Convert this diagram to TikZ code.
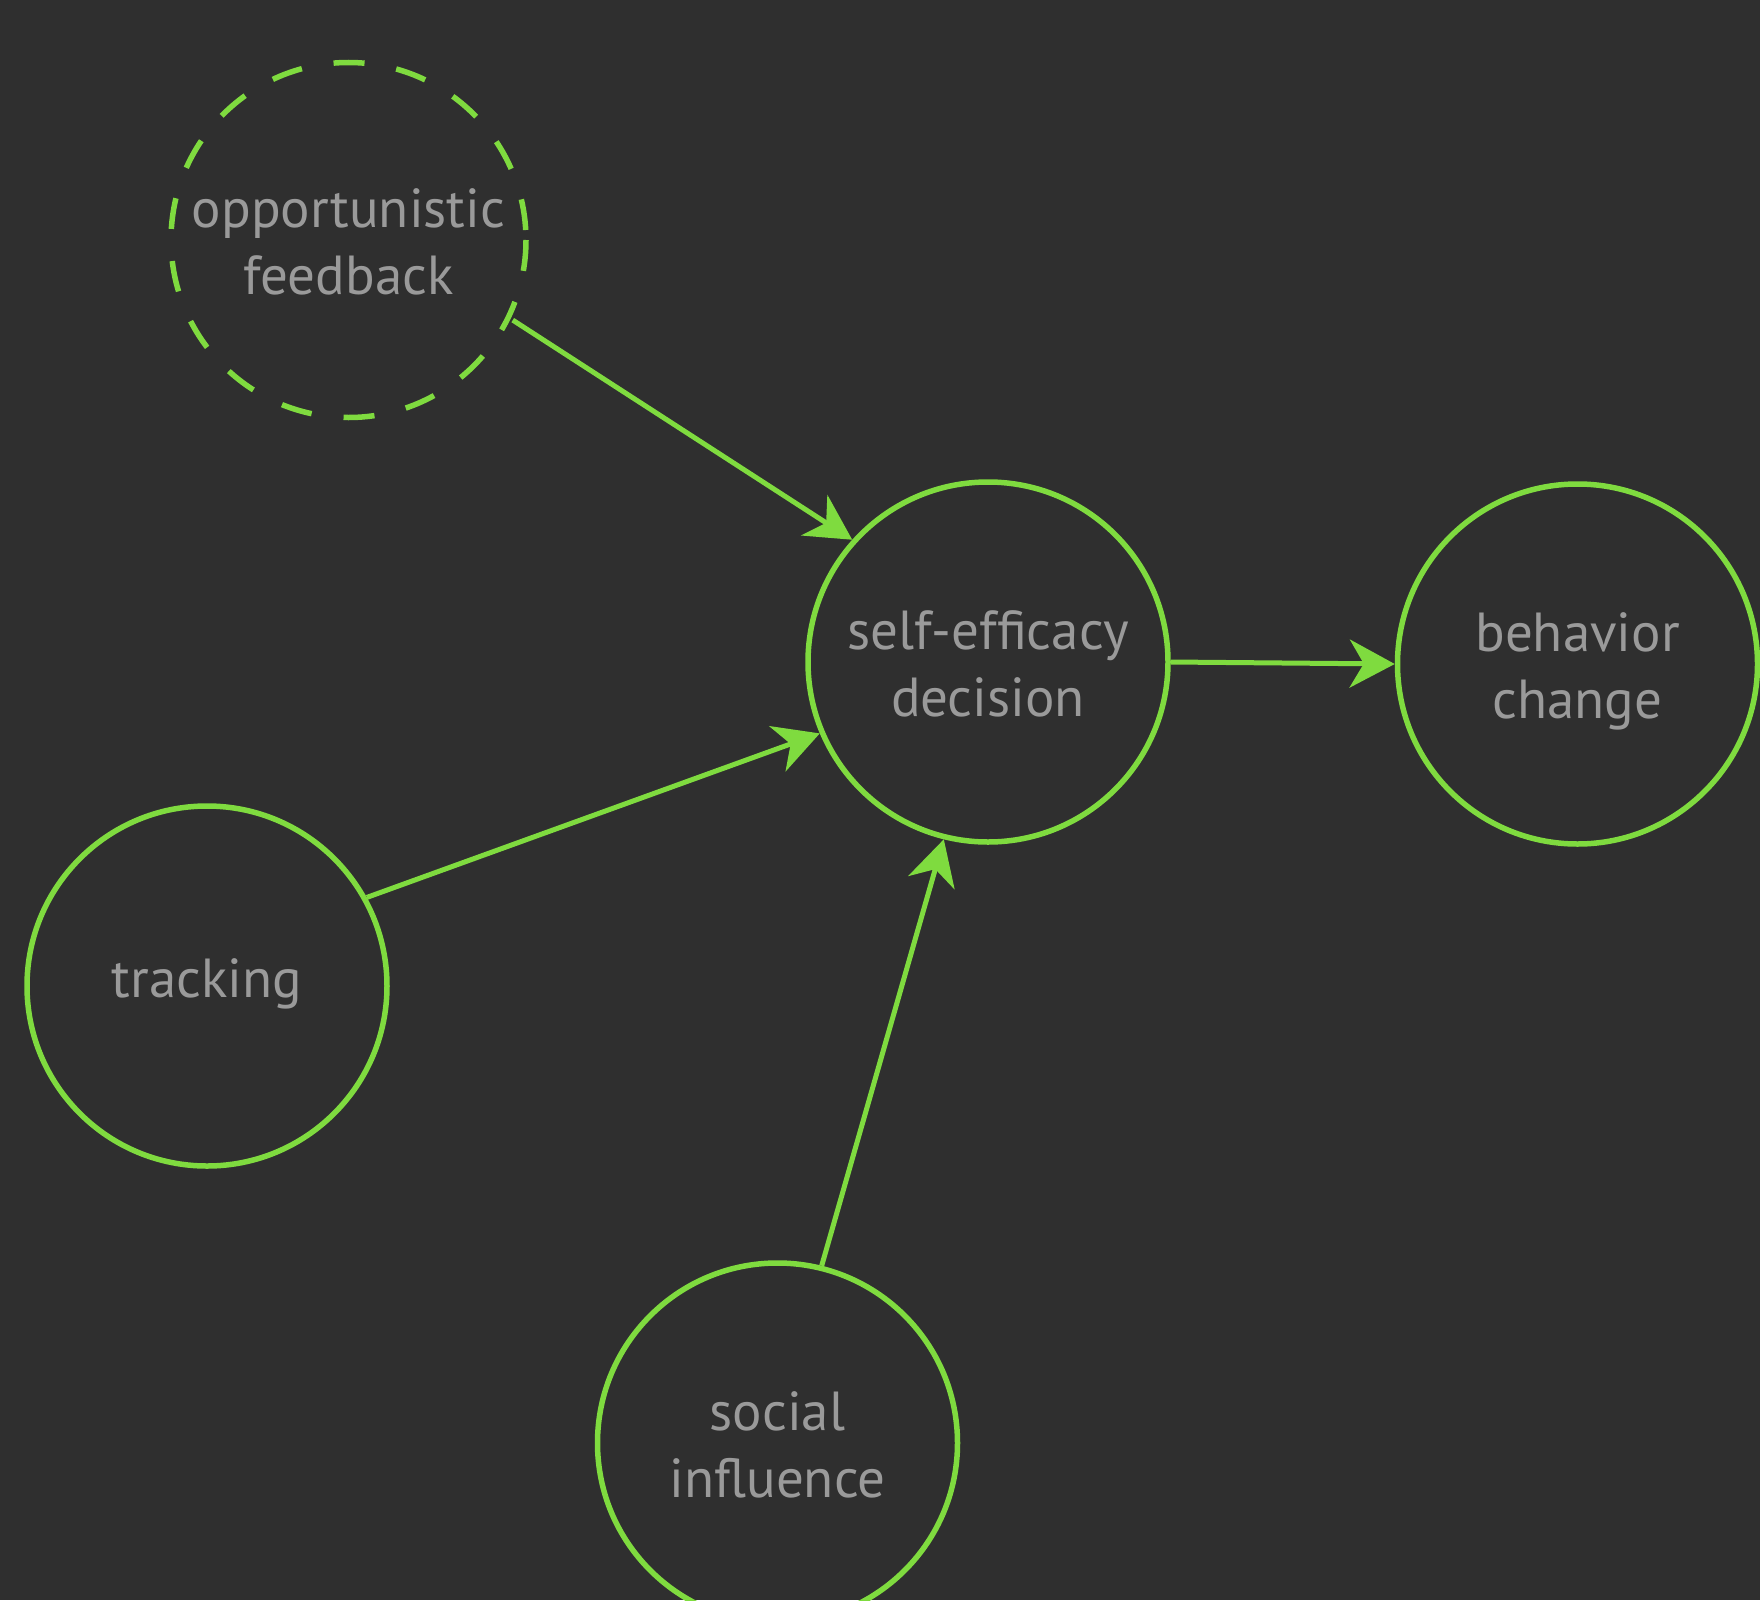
\documentclass[tikz,border=0pt]{standalone}
\usepackage{fontspec}
\setmainfont{PT Sans}
\usetikzlibrary{arrows.meta}
\definecolor{bgc}{HTML}{2F2F2F}
\definecolor{grn}{HTML}{7FDB3F}
\definecolor{txt}{HTML}{9A9A9A}
\tikzset{
  bubble/.style={circle, draw=grn, line width=5.5pt, minimum size=360pt, inner sep=0pt,
    text=txt, align=center, font=\fontsize{55}{67}\selectfont,
    text height=109pt, text depth=0pt},
  onebubble/.style={bubble, text height=22pt, text depth=0pt},
  ghostbubble/.style={bubble, draw=none},
  dashring/.style={draw=grn, line width=5.5pt, dash pattern=on 31pt off 32.2pt},
  link/.style={draw=grn, line width=5pt, -{Stealth[length=45pt, width=48pt, inset=14pt]}}
}
\begin{document}
\begin{tikzpicture}[x=1pt, y=-1pt]
\path[use as bounding box] (0,0) rectangle (1760,1600);
\clip (0,0) rectangle (1760,1600);
\fill[bgc] (0,0) rectangle (1760,1600);
\node[ghostbubble] (opp) at (348.5,240) {opportunistic\\feedback};
\draw[dashring] (opp.center) ++(177.5,0) arc[start angle=0, end angle=360, radius=177.5];
\node[bubble] (se) at (988,662) {self-efficacy\\decision};
\node[bubble] (bc) at (1577.5,664) {behavior\\change};
\node[onebubble] (tr) at (207,986) {tracking};
\node[bubble] (si) at (777.5,1443) {social\\influence};
\path[link] (opp.-26) -- (se.138);
\path[link] (tr.29) -- (se.-157);
\path[link] (si.76) -- (se.-104);
\path[link] (se.east) -- (bc.west);
\end{tikzpicture}
\end{document}
